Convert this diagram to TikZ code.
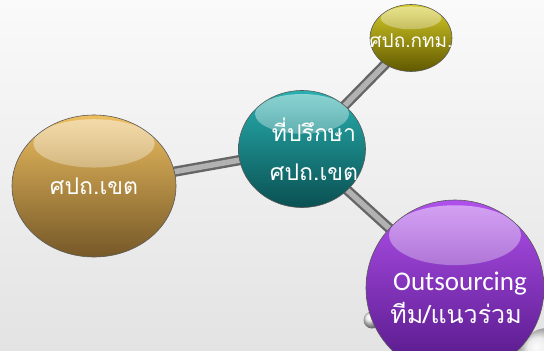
\documentclass[tikz,border=0pt]{standalone}
\usepackage{fontspec}
\newfontfamily\thaifont[Script=Thai]{Loma}
\newfontfamily\latfont{Carlito}
\usetikzlibrary{shapes.geometric,fadings,calc}
\pgfdeclarelayer{bg}
\pgfdeclarelayer{rods}
\pgfsetlayers{bg,rods,main}
\tikzfading[name=gloss, top color=transparent!20, bottom color=transparent!100]
\newcommand\lowr[2]{\raisebox{-#1}[\height][\depth]{#2}}
\newcommand\zw[1]{\makebox[0pt]{#1}}
\begin{document}
\begin{tikzpicture}[x=1pt,y=-1pt,
  bubble/.style={ellipse, draw=black!65, line width=0.6pt, inner sep=0pt,
    text=white, align=center, font=\thaifont,
    path picture={
      \fill[white, fill opacity=0.6, path fading=gloss]
        let \p1=(path picture bounding box.north east),
            \p2=(path picture bounding box.south west) in
        ({0.5*\x1+0.5*\x2},{0.8*\y1+0.2*\y2}) ellipse ({0.37*(\x1-\x2)} and {0.17*(\y1-\y2)});
    }},
  rod/.style={draw=black!60, line width=2.4pt, double=black!30, double distance=5.5pt},
  marble/.style={circle, shading=ball, ball color=gray!20, inner sep=0pt}
]
\useasboundingbox (0,0) rectangle (544,351);
\begin{pgfonlayer}{bg}
  \shade[top color=gray!4, bottom color=gray!22] (0,0) rectangle (544,351);
\end{pgfonlayer}

\node[bubble, minimum width=164pt, minimum height=142pt,
  top color={rgb,255:red,236;green,190;blue,96}, bottom color={rgb,255:red,118;green,88;blue,40},
  font=\thaifont\fontsize{23}{27}\selectfont] (gold) at (94,186) {\zw{ศปถ.เขต}};
\node[bubble, minimum width=127pt, minimum height=117pt,
  top color={rgb,255:red,40;green,175;blue,175}, bottom color={rgb,255:red,10;green,80;blue,82},
  font=\thaifont\fontsize{23}{39}\selectfont] (teal) at (302,149)
  {\zw{\hspace*{24pt}ที่ปรึกษา}\\\zw{\hspace*{24pt}ศปถ.เขต}};
\node[bubble, minimum width=82pt, minimum height=67pt,
  top color={rgb,255:red,214;green,204;blue,40}, bottom color={rgb,255:red,96;green,88;blue,0},
  font=\thaifont\fontsize{19}{22}\selectfont] (olive) at (411,38) {\zw{\lowr{3pt}{ศปถ.กทม.}}};
\node[bubble, minimum width=178pt, minimum height=176pt,
  top color={rgb,255:red,176;green,80;blue,236}, bottom color={rgb,255:red,82;green,22;blue,132},
  font=\thaifont\fontsize{25}{33}\selectfont] (purple) at (455,288)
  {\zw{\lowr{10pt}{\hspace*{10pt}\latfont\fontsize{27}{30}\selectfont Outsourcing}}\\\zw{\lowr{10pt}{\hspace*{2pt}ทีม/แนวร่วม}}};

\begin{pgfonlayer}{rods}
  \node[marble, minimum size=17pt] (m1) at (372,320) {};
  \node[marble, minimum size=60pt] (m2) at (548,358) {};
  \draw[rod] (gold.center) -- (teal.center);
  \draw[rod] (teal.center) -- (olive.center);
  \draw[rod] (teal.center) -- (purple.center);
\end{pgfonlayer}
\end{tikzpicture}
\end{document}
